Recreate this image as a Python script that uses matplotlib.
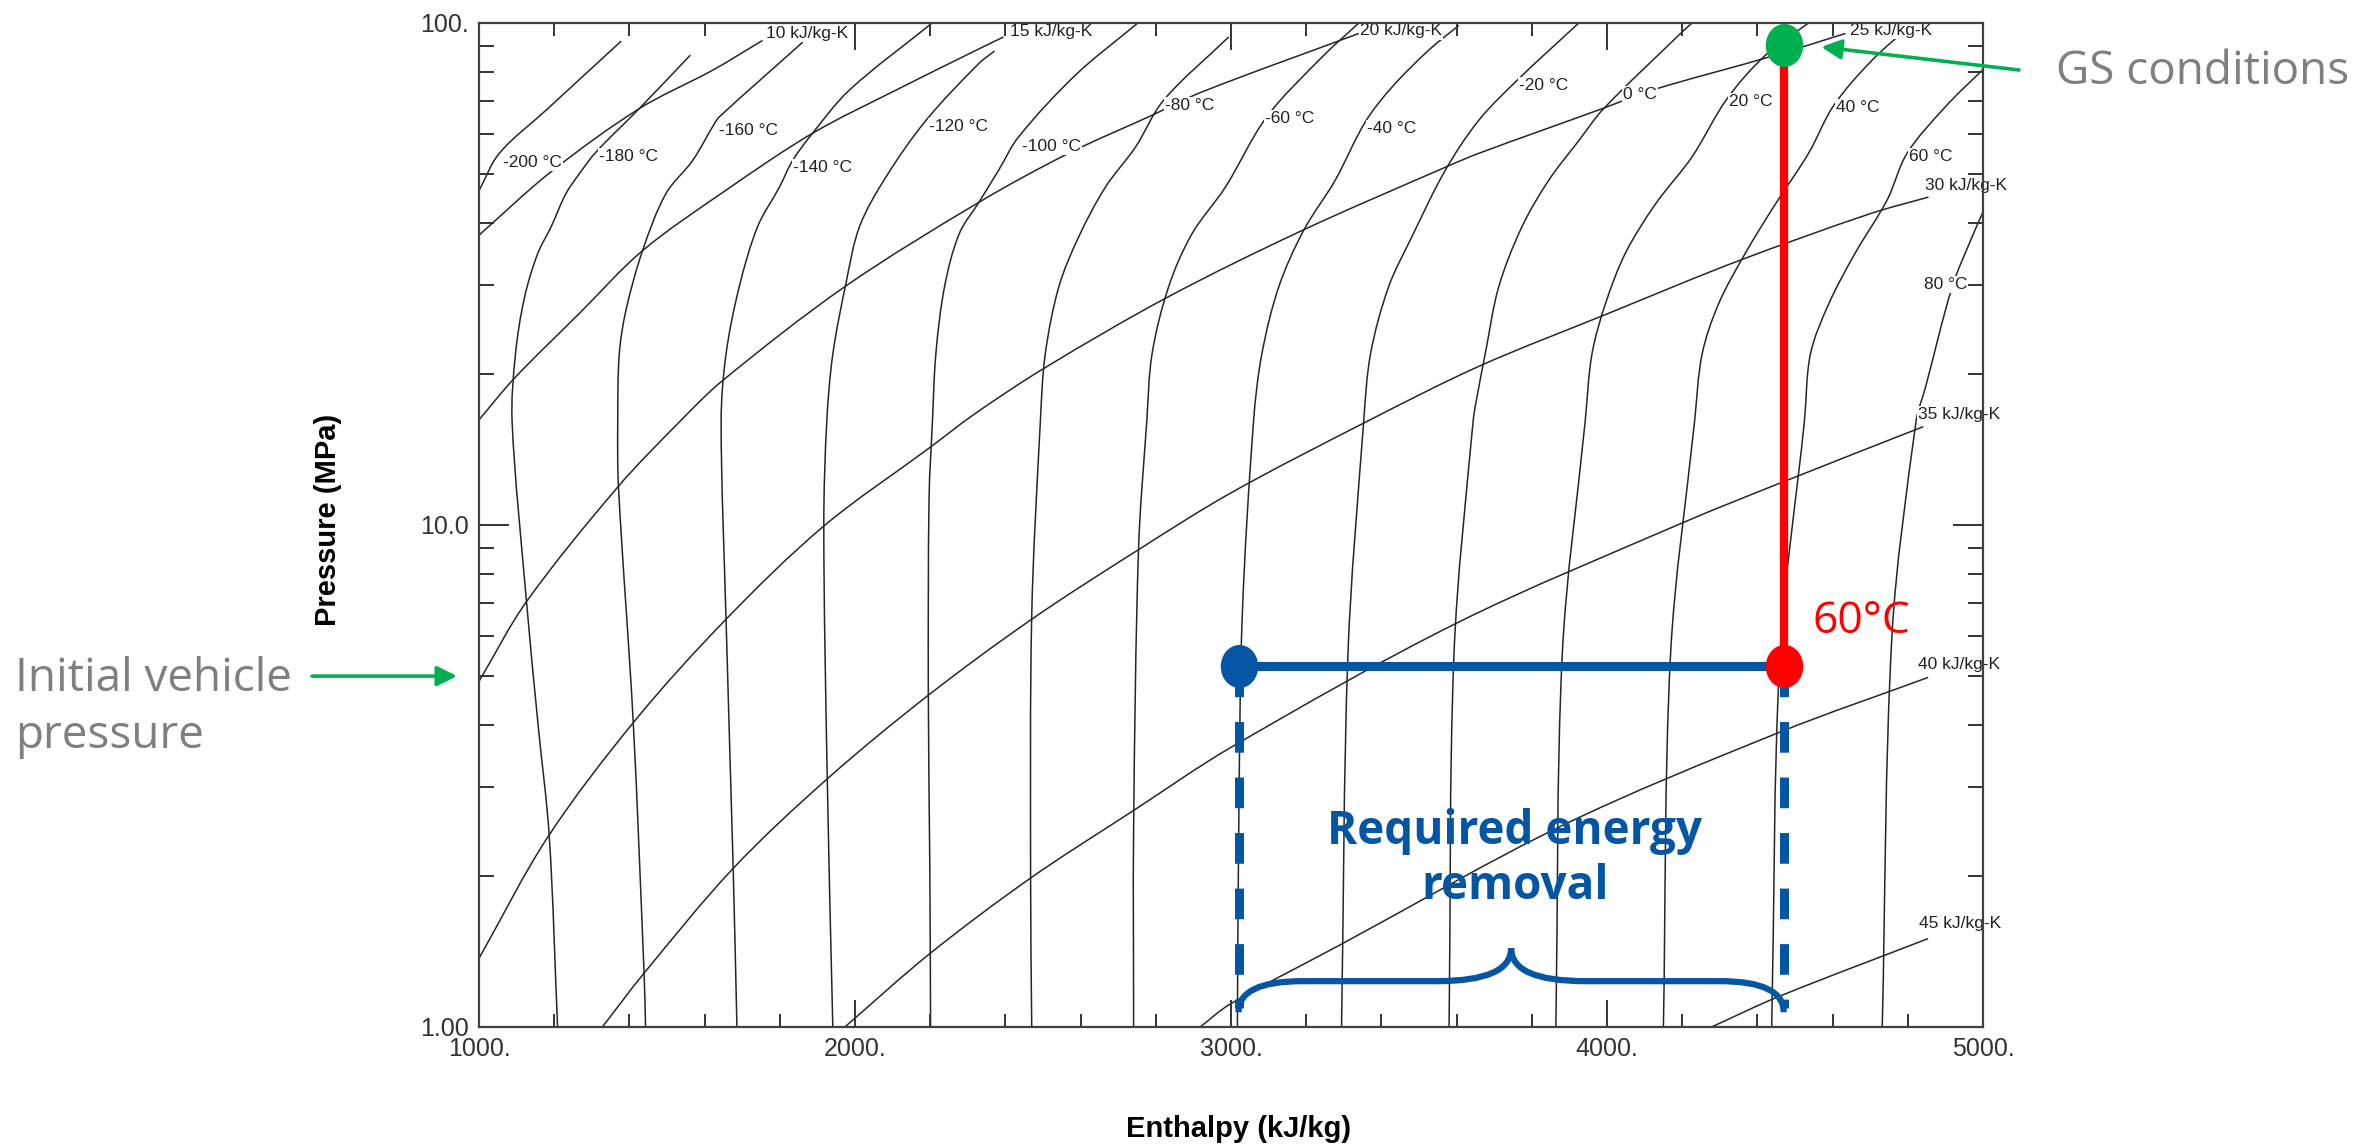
import numpy as np
import matplotlib
matplotlib.use("Agg")
import matplotlib.pyplot as plt
from matplotlib.path import Path
from matplotlib.patches import PathPatch
from matplotlib.ticker import LogLocator, NullFormatter

# =====================
# HYDROGEN P-h LINES  (enthalpy kJ/kg, pressure MPa)
# =====================

# isotherms
iso_m200 = [(1001, 46.5), (1054, 55.0), (1178, 67.0), (1378, 92.0)]
iso_m180 = [(1209, 1.0), (1187, 2.39), (1157, 4.01), (1126, 7.08), (1088, 16.1),
            (1097, 21.9), (1121, 28.4), (1156, 34.7), (1192, 39.3), (1231, 45.7),
            (1267, 50.1), (1311, 55.3), (1426, 67.5), (1562, 86.3)]
iso_m160 = [(1443, 1.0), (1439, 1.28), (1410, 4.07), (1371, 11.9), (1369, 16.1),
            (1373, 21.9), (1391, 26.8), (1435, 35.2), (1497, 45.7), (1568, 53.2),
            (1626, 63.0), (1639, 65.0), (1861, 91.6)]
iso_m140 = [(1686, 1.0), (1676, 2.07), (1657, 6.49), (1644, 16.1), (1657, 21.9),
            (1692, 29.8), (1741, 39.3), (1799, 47.1), (1834, 53.2), (1887, 60.3),
            (1985, 73.5), (2205, 100.0)]
iso_m120 = [(1941, 1.0), (1926, 3.18), (1917, 9.95), (1925, 16.1), (1941, 21.9),
            (1976, 30.3), (2012, 39.3), (2082, 49.3), (2189, 64.0), (2329, 83.0),
            (2371, 87.9)]
iso_m100 = [(2201, 1.0), (2199, 2.07), (2195, 4.62), (2197, 11.3), (2206, 16.1),
            (2215, 21.9), (2238, 29.8), (2277, 38.0), (2330, 44.0), (2382, 50.9),
            (2435, 59.3), (2586, 78.7), (2750, 99.7)]
iso_m80 = [(2470, 1.0), (2467, 2.0), (2470, 6.6), (2493, 16.1), (2506, 21.9),
           (2542, 29.8), (2595, 37.5), (2666, 47.1), (2746, 56.6), (2821, 70.2),
           (2994, 93.8)]
iso_m60 = [(2741, 1.0), (2741, 2.48), (2754, 8.93), (2776, 16.1), (2790, 21.9),
           (2834, 29.8), (2896, 38.0), (2985, 47.1), (3095, 65.0), (3242, 85.5),
           (3340, 100.0)]
iso_m40 = [(3017, 1.0), (3021, 2.70), (3030, 6.61), (3060, 16.1), (3082, 21.9),
           (3127, 29.8), (3193, 38.6), (3277, 48.6), (3357, 63.5), (3428, 74.5),
           (3526, 88.3), (3606, 98.9)]
iso_m20 = [(3294, 1.0), (3311, 5.52), (3353, 16.1), (3371, 21.9), (3419, 29.8),
           (3481, 37.5), (3570, 50.9), (3659, 64.0), (3765, 77.4), (3925, 100.0)]
iso_0 = [(3580, 1.0), (3593, 5.52), (3644, 16.1), (3659, 18.8), (3676, 21.9),
         (3712, 29.8), (3774, 39.3), (3845, 48.6), (3925, 58.3), (3991, 67.5),
         (4195, 95.2), (4226, 100.0)]
iso_20 = [(3864, 1.0), (3881, 5.52), (3942, 16.1), (3960, 21.9), (3996, 27.6),
          (4049, 34.8), (4129, 43.6), (4226, 54.1), (4319, 70.6), (4421, 86.2),
          (4536, 100.0)]
iso_40 = [(4150, 1.0), (4169, 5.52), (4233, 16.1), (4253, 21.9), (4297, 27.6),
          (4368, 34.8), (4448, 43.6), (4536, 55.0), (4603, 68.5), (4705, 84.3),
          (4815, 100.0)]
iso_60 = [(4438, 1.0), (4460, 5.5), (4525, 16.1), (4541, 21.9), (4590, 27.6),
          (4660, 34.8), (4745, 44.4), (4798, 55.0), (4900, 68.1), (5005, 81.5)]
iso_80 = [(4732, 1.0), (4758, 6.04), (4822, 16.1), (4847, 18.8), (4918, 29.8),
          (4971, 37.5), (5003, 42.5)]

isotherm_temps = [-200, -180, -160, -140, -120, -100, -80, -60, -40, -20, 0, 20, 40, 60, 80]
isotherm_lines = [iso_m200, iso_m180, iso_m160, iso_m140, iso_m120, iso_m100, iso_m80,
                  iso_m60, iso_m40, iso_m20, iso_0, iso_20, iso_40, iso_60, iso_80]
isotherm_label_at = [(1063, 52.8), (1320, 54.1), (1637, 61.1), (1836, 51.6), (2198, 62.1),
                     (2444, 56.8), (2825, 68.5), (3090, 64.4), (3362, 61.7), (3765, 75.0),
                     (4042, 72.1), (4324, 69.7), (4609, 67.8), (4802, 54.1), (4842, 30.1)]

# isentropes
s_10 = [(1000, 37.8), (1191, 50.5), (1426, 67.5), (1621, 80.5), (1754, 92.3)]
s_15 = [(1000, 16.2), (1094, 19.6), (1267, 26.4), (1435, 35.2), (1658, 46.5),
        (1887, 60.3), (2109, 73.5), (2331, 88.9), (2395, 93.8)]
s_20 = [(1000, 4.88), (1126, 7.03), (1369, 11.9), (1535, 16.1), (1648, 19.4),
        (1972, 29.8), (2331, 44.0), (2568, 55.0), (2790, 65.5), (2923, 72.9),
        (3340, 95.3)]
s_25 = [(1000, 1.37), (1183, 2.39), (1414, 4.07), (1657, 6.49), (1917, 9.95),
        (2201, 14.3), (2316, 16.6), (2502, 20.5), (2830, 28.4), (3189, 38.6),
        (3570, 51.6), (3659, 55.0), (3987, 67.5), (4120, 73.5), (4430, 85.5),
        (4634, 95.3)]
s_30 = [(1328, 1.0), (1439, 1.28), (1676, 2.07), (1926, 3.12), (2195, 4.58),
        (2470, 6.49), (2754, 8.93), (3001, 11.6), (3363, 16.1), (3659, 20.7),
        (4004, 26.4), (4341, 33.4), (4700, 41.7), (4855, 45.0)]
s_35 = [(1973, 1.0), (2199, 1.40), (2467, 1.98), (2741, 2.70), (3001, 3.61),
        (3599, 6.37), (4201, 10.1), (4470, 12.2), (4841, 15.7)]
s_40 = [(2918, 1.0), (2997, 1.11), (3292, 1.46), (3881, 2.52), (4457, 3.86),
        (4854, 4.97)]
s_45 = [(4278, 1.0), (4457, 1.15), (4854, 1.50)]

entropy_values = [10, 15, 20, 25, 30, 35, 40, 45]
isentrope_lines = [s_10, s_15, s_20, s_25, s_30, s_35, s_40, s_45]
isentrope_label_at = [(1763, 95.5), (2413, 96.0), (3344, 96.4), (4647, 96.6),
                      (4847, 47.5), (4827, 16.6), (4827, 5.28), (4830, 1.61)]

# =====================
# FILLING PROCESS
# =====================

h_vehicle = 3020      # kJ/kg, gas in the vehicle tank
h_hot = 4470          # kJ/kg, after filling at 60 C
p_vehicle = 5.24      # MPa
p_station = 90.3      # MPa
p_arrow_vehicle = 5.0
t_hot = 60

x_ticks = [1000, 2000, 3000, 4000, 5000]
x_tick_labels = ["1000.", "2000.", "3000.", "4000.", "5000."]
y_ticks = [1, 10, 100]
y_tick_labels = ["1.00", "10.0", "100."]


def smooth_path(pts):
    # cubic bezier through the points, worked out in (h, log P) at plot scale
    h = np.array([p[0] for p in pts], float) * 0.376
    y = np.log10([p[1] for p in pts]) * 502
    P = np.column_stack([h, y])
    n = len(P)
    T = np.zeros_like(P)
    for i in range(n):
        d = P[min(i + 1, n - 1)] - P[max(i - 1, 0)]
        T[i] = d / np.hypot(*d)
    verts, codes = [P[0]], [Path.MOVETO]
    for i in range(n - 1):
        L = np.hypot(*(P[i + 1] - P[i])) / 3
        verts += [P[i] + T[i] * L, P[i + 1] - T[i + 1] * L, P[i + 1]]
        codes += [Path.CURVE4] * 3
    V = np.array(verts)
    return Path(np.column_stack([V[:, 0] / 0.376, 10 ** (V[:, 1] / 502)]), codes)


# =====================
# PLOT
# =====================

W, H = 2377, 1145
fig = plt.figure(figsize=(W / 100, H / 100), dpi=100)
ax = fig.add_axes([479 / W, 1 - 1027 / H, 1504 / W, 1004 / H])
ax.set_yscale("log")
ax.set_xlim(1000, 5000)
ax.set_ylim(1, 100)

chart_font = ["Liberation Sans", "DejaVu Sans"]
narrow_font = ["Liberation Sans Narrow", "Liberation Sans", "DejaVu Sans"]
slide_font = ["Open Sans", "DejaVu Sans"]

for pts in isotherm_lines + isentrope_lines:
    ax.add_patch(PathPatch(smooth_path(pts), fill=False, ec="#262626", lw=1.1, zorder=1))

label_box = dict(fc="white", ec="none", pad=0.8)
for t, (h, p) in zip(isotherm_temps, isotherm_label_at):
    ax.text(h, p, f"{t} °C", fontsize=12.5, family=narrow_font, color="#222222",
            ha="left", va="center", bbox=label_box, zorder=2)
for s, (h, p) in zip(entropy_values, isentrope_label_at):
    ax.text(h, p, f"{s} kJ/kg-K", fontsize=12.5, family=narrow_font, color="#222222",
            ha="left", va="center", bbox=label_box, zorder=2)

# axes frame and ticks
ax.set_xticks(x_ticks, x_tick_labels)
ax.set_xticks(np.arange(1000, 5001, 200), minor=True)
ax.set_yticks(y_ticks, y_tick_labels)
ax.yaxis.set_minor_locator(LogLocator(base=10, subs=np.arange(2, 10)))
ax.yaxis.set_minor_formatter(NullFormatter())
ax.tick_params(which="both", direction="in", top=True, right=True,
               width=1.4, color="#333333", labelsize=18, labelcolor="#333333", pad=7)
ax.tick_params(axis="x", which="major", length=19.5)
ax.tick_params(axis="x", which="minor", length=9.5)
ax.tick_params(axis="y", which="major", length=21.5)
ax.tick_params(axis="y", which="minor", length=11)
for lab in ax.get_xticklabels() + ax.get_yticklabels():
    lab.set_family(chart_font)
for sp in ax.spines.values():
    sp.set_linewidth(1.6)
    sp.set_color("#404040")

ax.set_xlabel("Enthalpy (kJ/kg)", fontsize=21, fontweight="bold", family=chart_font)
ax.xaxis.set_label_coords(0.505, -0.1016)
ax.xaxis.label.set_va("center")
ax.set_ylabel("Pressure (MPa)", fontsize=21, fontweight="bold", family=chart_font)
ax.yaxis.set_label_coords(-0.1004, 0.505)
ax.yaxis.label.set_va("center")

blue = "#0455A4"
red = "#FF0000"
green = "#00B050"
gray = "#7F7F7F"

# heat removal at vehicle pressure
ax.plot([h_vehicle, h_hot], [p_vehicle, p_vehicle], color=blue, lw=6.5,
        solid_capstyle="butt", zorder=5)
# fill up to station pressure
ax.plot([h_hot, h_hot], [p_vehicle, p_station], color=red, lw=6,
        solid_capstyle="butt", zorder=5)
# drop lines to the enthalpy axis
for h in (h_vehicle, h_hot):
    ax.plot([h, h], [p_vehicle, 1.09], color=blue, lw=6.5, dashes=(3.4, 2.75),
            dash_capstyle="butt", zorder=4)

circ = Path.unit_circle()
oval = Path(circ.vertices * [0.87, 1.0], circ.codes)
ax.plot([h_vehicle], [p_vehicle], ls="none", marker=oval, ms=31, mew=0, color=blue, zorder=6)
ax.plot([h_hot], [p_vehicle], ls="none", marker=oval, ms=31, mew=0, color=red, zorder=6)
ax.plot([h_hot], [p_station], ls="none", marker=oval, ms=31, mew=0, color=green, zorder=6)

# curly brace under the energy span
span = h_hot - h_vehicle
mid = (h_vehicle + h_hot) / 2
p_end, p_flat, p_tip = 1.07, 1.234, 1.436
brace_verts = [(h_vehicle, p_end), (h_vehicle, p_flat), (h_vehicle + 0.117 * span, p_flat),
               (mid - 0.136 * span, p_flat), (mid, p_flat), (mid, p_tip),
               (mid, p_flat), (mid + 0.136 * span, p_flat),
               (h_hot - 0.117 * span, p_flat), (h_hot, p_flat), (h_hot, p_end)]
brace_codes = [Path.MOVETO, Path.CURVE3, Path.CURVE3, Path.LINETO, Path.CURVE3, Path.CURVE3,
               Path.CURVE3, Path.CURVE3, Path.LINETO, Path.CURVE3, Path.CURVE3]
ax.add_patch(PathPatch(Path(brace_verts, brace_codes), fill=False, ec=blue, lw=4.5,
                       capstyle="butt", zorder=5))

ax.text(mid + 10, 2.32, "Required energy", fontsize=33, fontweight="bold", color=blue,
        family=slide_font, ha="center", va="baseline", zorder=7)
ax.text(mid + 10, 1.80, "removal", fontsize=33, fontweight="bold", color=blue,
        family=slide_font, ha="center", va="baseline", zorder=7)
ax.text(4547, 6.1, f"{t_hot}°C", fontsize=32, color=red, family=slide_font,
        ha="left", va="baseline", zorder=7)

# call-outs
fig.text(2056 / W, 1 - 84 / H, "GS conditions", fontsize=33, color=gray,
         family=slide_font, ha="left", va="baseline")
fig.text(15 / W, 1 - 691 / H, "Initial vehicle", fontsize=33, color=gray,
         family=slide_font, ha="left", va="baseline")
fig.text(15 / W, 1 - 748 / H, "pressure", fontsize=33, color=gray,
         family=slide_font, ha="left", va="baseline")

arrow = dict(arrowstyle="-|>,head_length=0.6,head_width=0.3", color=green, lw=2.6,
             mutation_scale=20, shrinkA=0, shrinkB=0)
ax.annotate("", xy=(4570, 89.6), xycoords="data",
            xytext=(2019, H - 70), textcoords="figure pixels",
            arrowprops=arrow, annotation_clip=False, zorder=7)
ax.annotate("", xy=(457, p_arrow_vehicle), xycoords=("figure pixels", "data"),
            xytext=(312, p_arrow_vehicle), textcoords=("figure pixels", "data"),
            arrowprops=arrow, annotation_clip=False, zorder=7)

fig.savefig("out.png", dpi=100)
